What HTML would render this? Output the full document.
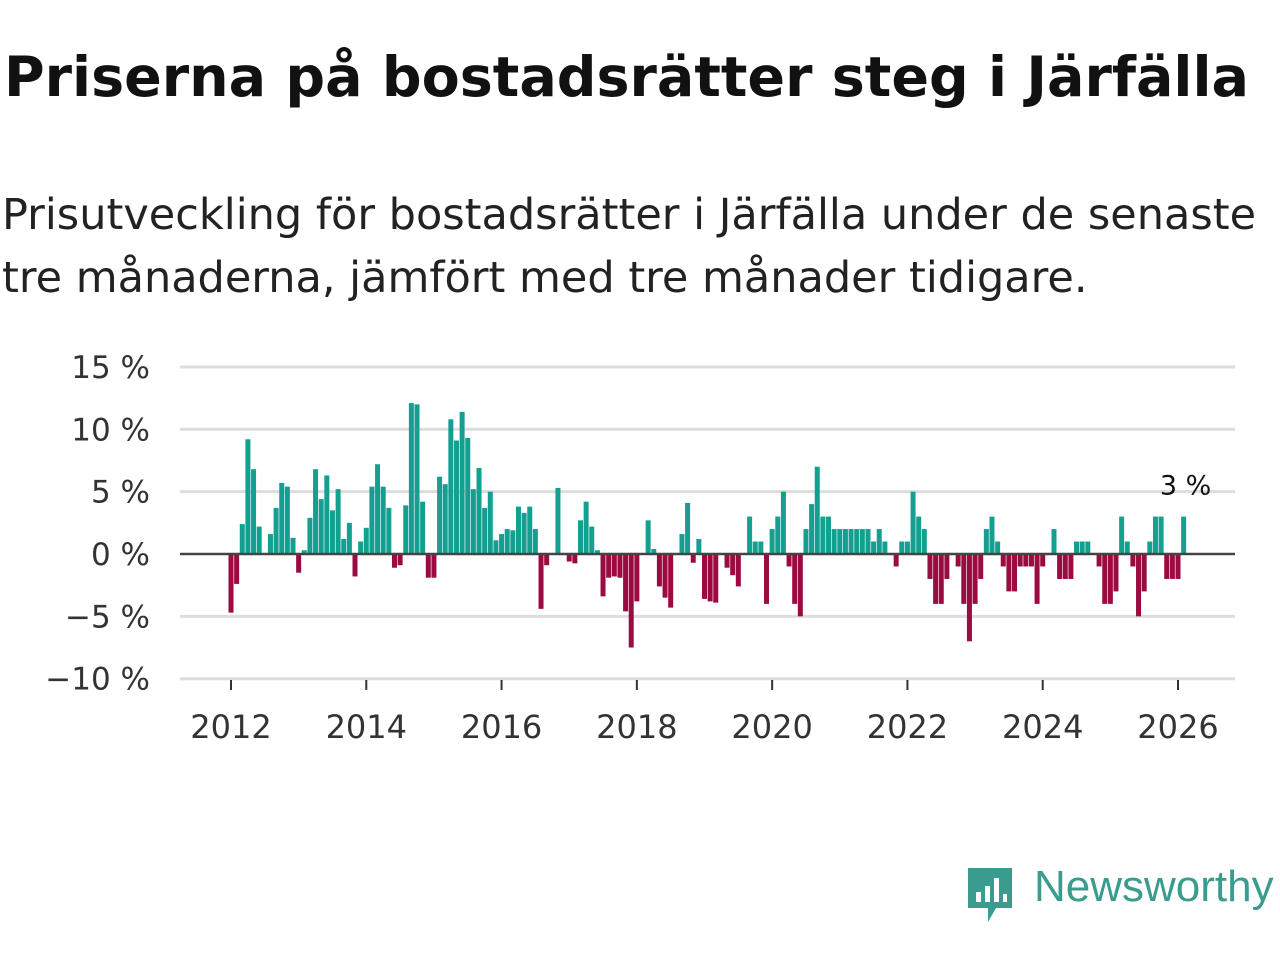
<!DOCTYPE html>
<html><head><meta charset="utf-8"><style>
body{margin:0;background:#fff;width:1280px;height:960px;overflow:hidden;font-family:"DejaVu Sans","Liberation Sans",sans-serif;}
h1{position:absolute;left:4px;top:45px;margin:0;font-size:55.5px;font-weight:bold;color:#111;white-space:nowrap}
p{position:absolute;left:2px;top:184px;margin:0;font-size:43px;line-height:63px;color:#222;width:1300px;white-space:nowrap}
svg{position:absolute;left:0;top:0}
</style></head><body>
<h1>Priserna på bostadsrätter steg i Järfälla</h1>
<p>Prisutveckling för bostadsrätter i Järfälla under de senaste<br>tre månaderna, jämfört med tre månader tidigare.</p>
<svg id="chart" width="1280" height="960"></svg>
<div style="position:absolute;left:966px;top:866px;">
<svg width="50" height="60" style="position:static"><path d="M2 2h44v40H30l-8 14v-14H2z" fill="#3a9c8e"/><rect x="10" y="26" width="5" height="10" fill="#fff"/><rect x="19" y="20" width="5" height="16" fill="#fff"/><rect x="28" y="12" width="5" height="24" fill="#fff"/><rect x="37" y="28" width="4" height="8" fill="#fff"/></svg>
<span style="position:absolute;left:68px;top:-4px;font-size:44px;color:#3a9c8e;white-space:nowrap;font-family:'Liberation Sans',sans-serif">Newsworthy</span></div>
<script>
const startYear = 2012;
const values = [-4.7,-2.4,2.4,9.2,6.8,2.2,0,1.6,3.7,5.7,5.4,1.3,
-1.5,0.3,2.9,6.8,4.4,6.3,3.5,5.2,1.2,2.5,-1.8,1.0,
2.1,5.4,7.2,5.4,3.7,-1.1,-0.9,3.9,12.1,12.0,4.2,-1.9,
-1.9,6.2,5.6,10.8,9.1,11.4,9.3,5.2,6.9,3.7,5.0,1.1,
1.6,2.0,1.9,3.8,3.3,3.8,2.0,-4.4,-0.9,0,5.3,0,
-0.6,-0.75,2.7,4.2,2.2,0.3,-3.4,-1.9,-1.8,-1.9,-4.6,-7.5,
-3.8,0,2.7,0.4,-2.6,-3.5,-4.3,0,1.6,4.1,-0.7,1.2,
-3.6,-3.8,-3.9,0,-1.1,-1.7,-2.6,0,3.0,1.0,1.0,-4.0,
2.0,3.0,5.0,-1.0,-4.0,-5.0,2.0,4.0,7.0,3.0,3.0,2.0,
2.0,2.0,2.0,2.0,2.0,2.0,1.0,2.0,1.0,0,-1.0,1.0,
1.0,5.0,3.0,2.0,-2.0,-4.0,-4.0,-2.0,0,-1.0,-4.0,-7.0,
-4.0,-2.0,2.0,3.0,1.0,-1.0,-3.0,-3.0,-1.0,-1.0,-1.0,-4.0,
-1.0,0,2.0,-2.0,-2.0,-2.0,1.0,1.0,1.0,0,-1.0,-4.0,
-4.0,-3.0,3.0,1.0,-1.0,-5.0,-3.0,1.0,3.0,3.0,-2.0,-2.0,
-2.0,3.0];
const yTicks = [15,10,5,0,-5,-10];
const yTickLabels = ["15 %","10 %","5 %","0 %","−5 %","−10 %"];
const xTicks = [2012,2014,2016,2018,2020,2022,2024,2026];
const lastLabel = "3 %";

const NS="http://www.w3.org/2000/svg";
const svg=document.getElementById('chart');
const FF='DejaVu Sans, Liberation Sans, sans-serif';
const y=v=>554-v*12.47;
const x=m=>231+m*(1178-231)/168;
function el(t,a){const e=document.createElementNS(NS,t);for(const k in a)e.setAttribute(k,a[k]);svg.appendChild(e);return e;}
yTicks.forEach((t,i)=>{
  if(t!==0){const g=el('line',{x1:180,x2:1235,y1:y(t),y2:y(t),stroke:'#dddddd','stroke-width':3});
  
  }
  const tx=el('text',{x:150,y:y(t)+11,'text-anchor':'end','font-size':31,fill:'#333','font-family':FF});
  tx.textContent=yTickLabels[i];
  
  
});
xTicks.forEach(yr=>{
  const xm=x((yr-startYear)*12);
  const l=el('line',{x1:xm,x2:xm,y1:680,y2:690,stroke:'#333','stroke-width':2});
  
  
  const tx=el('text',{x:xm,y:738,'text-anchor':'middle','font-size':32,fill:'#333','font-family':FF});
  tx.textContent=yr;
  
  
});
values.forEach((v,i)=>{
  if(v===0)return;
  const r=el('rect',{x:x(i)-2.5,width:5,y:Math.min(y(v),y(0)),height:Math.abs(y(v)-y(0)),fill:v>0?'#13a090':'#9b0a40'});
  
  
});
const z=el('line',{x1:180,x2:1235,y1:y(0),y2:y(0),stroke:'#444','stroke-width':2.5});


const li=values.length-1;
const lb=el('text',{x:x(li)+2,y:y(values[li])-22,'text-anchor':'middle','font-size':27,fill:'#111','font-family':FF});
lb.textContent=lastLabel;


</script>
</body></html>
